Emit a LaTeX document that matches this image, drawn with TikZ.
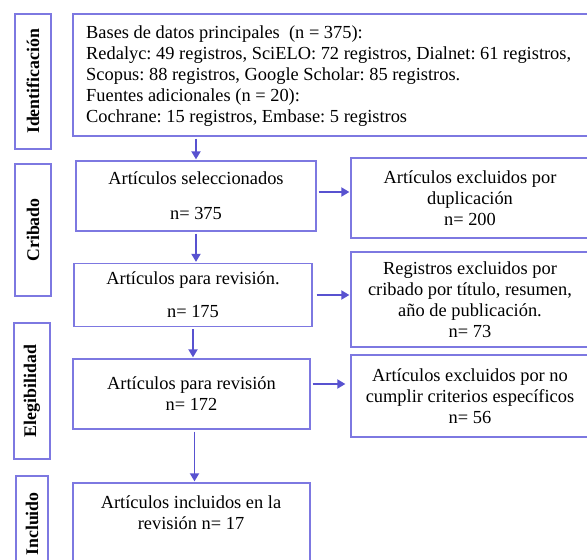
\documentclass[tikz,border=0pt]{standalone}
\usepackage{fontspec}
\setmainfont{Liberation Serif}
\usetikzlibrary{arrows.meta}
\definecolor{boxc}{RGB}{125,120,225}
\definecolor{arrc}{RGB}{88,82,208}
\frenchspacing
\begin{document}
\frenchspacing
\begin{tikzpicture}[x=1pt,y=-1pt,
  txt/.style={font=\fontsize{18.4}{21}\selectfont\frenchspacing, align=center, inner sep=0pt},
  bx/.style={draw=boxc, line width=1.3pt, inner sep=0pt, font=\fontsize{18.4}{21}\selectfont\frenchspacing, align=center},
  side/.style={bx, font=\fontsize{17.8}{21}\selectfont\bfseries},
  arr/.style={draw=arrc, line width=1.8pt, -{Triangle[width=9pt,length=8pt]}, shorten <=2pt, shorten >=1pt}
]
\useasboundingbox (0,0) rectangle (587,560);
\clip (0,0) rectangle (587,560);

% stage boxes
\node[side, minimum width=36pt, minimum height=135pt] (s1) at (33,81.5) {\rotatebox{90}{Identificación}};
\node[side, minimum width=36pt, minimum height=132pt] (s2) at (33,230) {\rotatebox{90}{Cribado}};
\node[side, minimum width=36pt, minimum height=136pt] (s3) at (32,391) {\rotatebox{90}{Elegibilidad}};
\node[side, minimum width=32pt, minimum height=124pt] (s4) at (32,538) {};
\node[txt, font=\fontsize{17.8}{21}\selectfont\bfseries] (s4t) at (32,524) {\rotatebox{90}{Incluido}};

% main column
\node[bx, minimum width=527pt, minimum height=122pt] (top) at (336.5,75) {};
\node[txt, align=left, anchor=west] (topt) at (86,76.5) {Bases de datos principales\ \ (n = 375):\\
Redalyc: 49 registros, SciELO: 72 registros, Dialnet: 61 registros,\\
Scopus: 88 registros, Google Scholar: 85 registros.\\
Fuentes adicionales (n = 20):\\
Cochrane: 15 registros, Embase: 5 registros};

\node[bx, minimum width=240pt, minimum height=70pt] (sel) at (196,196) {Artículos seleccionados\\[14pt]n= 375};
\node[bx, minimum width=238pt, minimum height=63pt] (rev1) at (193,295) {Artículos para revisión.\\[12pt]n= 175};
\node[bx, minimum width=237pt, minimum height=70pt] (rev2) at (191.5,394) {Artículos para revisión\\n= 172};
\node[bx, minimum width=237pt, minimum height=117pt] (inc) at (191.5,541.5) {};
\node[txt] (inct) at (191,513) {Artículos incluidos en la\\revisión n= 17};

% exclusion column
\node[bx, minimum width=238pt, minimum height=80pt] (dup) at (470,198) {Artículos excluidos por\\duplicación\\n= 200};
\node[bx, minimum width=238pt, minimum height=95pt] (reg) at (470,299.5) {Registros excluidos por\\cribado por título, resumen,\\año de publicación.\\n= 73};
\node[bx, minimum width=238pt, minimum height=82pt] (cum) at (470,396) {Artículos excluidos por no\\cumplir criterios específicos\\n= 56};

% connectors
\draw[arr] (sel.north |- top.south) -- (sel.north);
\draw[arr] (sel.south) -- (sel.south |- rev1.north);
\draw[arr] (rev1.south) -- (rev1.south |- rev2.north);
\draw[arr] ([xshift=3pt]rev2.south) -- ([xshift=3pt]rev2.south |- inc.north);
\draw[arr] ([yshift=4pt]sel.east) -- ([yshift=4pt]sel.east -| dup.west);
\draw[arr] ([xshift=2pt]rev1.east) -- (rev1.east -| reg.west);
\draw[arr] ([yshift=10pt]rev2.east) -- ([yshift=10pt,xshift=-4pt]rev2.east -| cum.west);
\end{tikzpicture}
\end{document}
